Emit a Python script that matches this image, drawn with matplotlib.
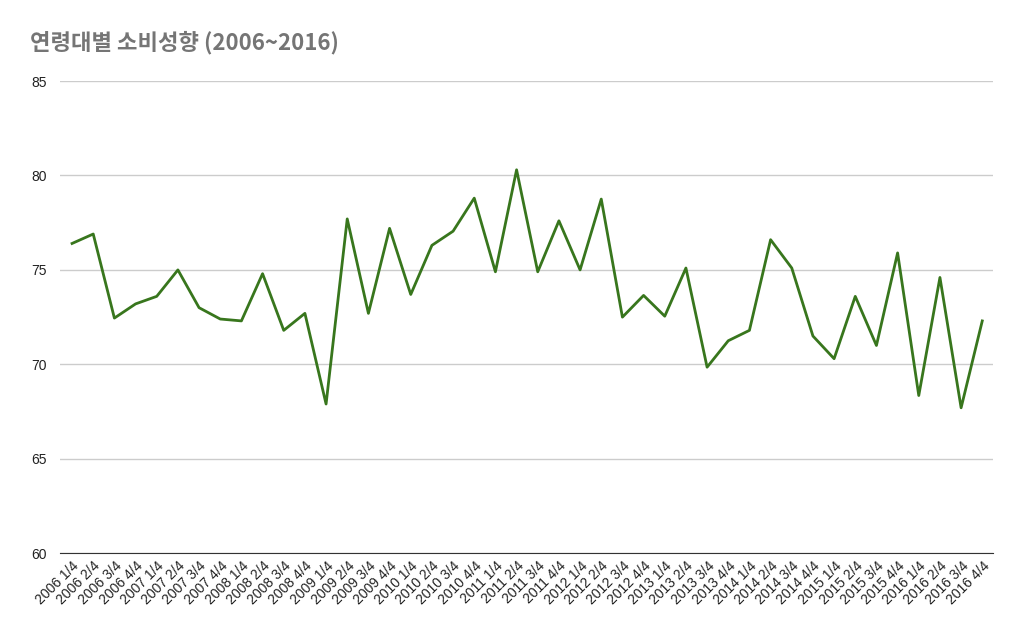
import matplotlib
matplotlib.use("Agg")
import matplotlib.pyplot as plt

plt.rcParams['font.family'] = ['Liberation Sans', 'Noto Sans CJK KR', 'DejaVu Sans']

years = list(range(2006, 2017))
quarters = ["1/4", "2/4", "3/4", "4/4"]
labels = [f"{y} {q}" for y in years for q in quarters]

values = [76.4, 76.9, 72.45, 73.2, 73.6, 75.0, 73.0, 72.4, 72.3, 74.8, 71.8, 72.7,
          67.9, 77.7, 72.7, 77.2, 73.7, 76.3, 77.05, 78.8, 74.9, 80.3, 74.9, 77.6,
          75.0, 78.75, 72.5, 73.65, 72.55, 75.1, 69.85, 71.25, 71.8, 76.6, 75.1, 71.5,
          70.3, 73.6, 71.0, 75.9, 68.35, 74.6, 67.7, 72.3]

fig = plt.figure(figsize=(10.24, 6.33), dpi=100)
ax = fig.add_axes([0.059, 0.126, 0.911, 0.746])
x = range(len(values))
ax.plot(x, values, color="#38761d", linewidth=2)

ax.set_ylim(60, 85)
ax.set_yticks([60, 65, 70, 75, 80, 85])
ax.set_xlim(-0.55, len(values) - 0.48)
ax.set_xticks(list(x))
ax.set_xticklabels(labels, rotation=45, ha="right", rotation_mode="anchor", fontsize=10, color="#222222")
ax.tick_params(axis="y", labelsize=10, colors="#222222", length=0, pad=10)
ax.tick_params(axis="x", length=0, pad=4)
ax.grid(axis="y", color="#cccccc", linewidth=1)
ax.set_axisbelow(True)
for s in ["top", "right", "left"]:
    ax.spines[s].set_visible(False)
ax.spines["bottom"].set_color("#333333")

fig.text(0.029, 0.933, "연령대별 소비성향 (2006~2016)", fontsize=16, fontweight="bold",
         color="#757575", va="center", family=['Noto Sans CJK KR', 'DejaVu Sans'])

fig.savefig("out.png", dpi=100)
